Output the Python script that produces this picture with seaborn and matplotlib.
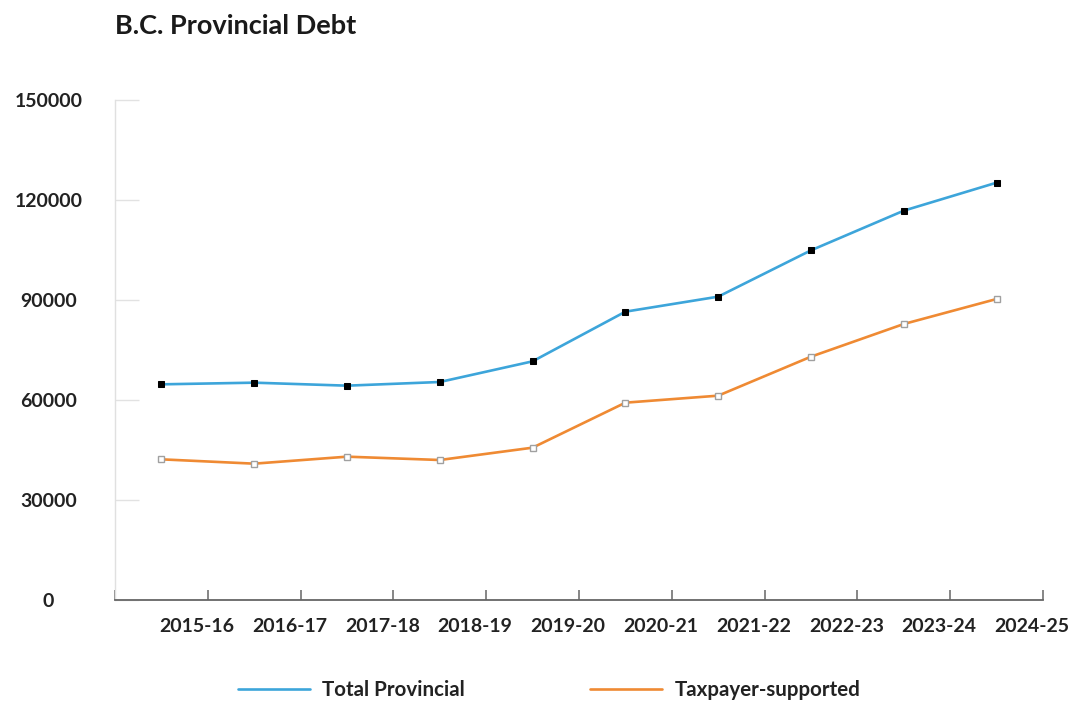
import numpy as np
import pandas as pd
import matplotlib
matplotlib.use("Agg")
import matplotlib.pyplot as plt
from matplotlib.lines import Line2D
import seaborn as sns

years = ["2015-16", "2016-17", "2017-18", "2018-19", "2019-20",
         "2020-21", "2021-22", "2022-23", "2023-24", "2024-25"]
total_provincial = [64700, 65200, 64300, 65400, 71600, 86500, 91000, 104900, 116800, 125200]
taxpayer_supported = [42200, 40900, 43000, 42000, 45700, 59200, 61300, 73000, 82800, 90300]
y_ticks = [0, 30000, 60000, 90000, 120000, 150000]

BLUE = "#3DA5DA"
ORANGE = "#EF8A33"

sns.set_theme(style="white")
plt.rcParams["font.family"] = ["Lato", "DejaVu Sans"]

W, H = 1077, 701
fig = plt.figure(figsize=(W / 100, H / 100), dpi=100)
ax = fig.add_axes([115 / W, 1 - 600 / H, (1043 - 115) / W, 500 / H])

df = pd.DataFrame({
    "pos": np.arange(len(years)),
    "year": years,
    "Total Provincial": total_provincial,
    "Taxpayer-supported": taxpayer_supported,
})

sns.lineplot(data=df, x="pos", y="Total Provincial", ax=ax, color=BLUE,
             linewidth=1.9, marker="s", markersize=4.5,
             markerfacecolor="black", markeredgecolor="black", legend=False)
sns.lineplot(data=df, x="pos", y="Taxpayer-supported", ax=ax, color=ORANGE,
             linewidth=1.9, marker="s", markersize=4.5,
             markerfacecolor="white", markeredgecolor="#a0a0a0",
             markeredgewidth=1.0, legend=False)

n = len(years)
ax.set_xlim(-0.5, n - 0.5)
ax.set_ylim(0, 150000)
ax.set_xlabel("")
ax.set_ylabel("")

# x axis: boundary ticks (major, no label) and offset labels (minor)
ax.set_xticks(np.arange(n + 1) - 0.5)
ax.set_xticklabels([""] * (n + 1))
ax.set_xticks(np.arange(n) + 0.38, minor=True)
ax.set_xticklabels(years, minor=True, fontsize=14, fontweight="bold",
                   color="#222222")
ax.tick_params(axis="x", which="major", direction="in", length=7,
               width=1.1, color="#666666", bottom=True)
ax.tick_params(axis="x", which="minor", length=0, pad=13, bottom=True)

# y axis
ax.set_yticks(y_ticks)
ax.set_yticklabels([str(v) for v in y_ticks], fontsize=14, fontweight="bold",
                   color="#222222")
for lab in ax.get_yticklabels():
    lab.set_horizontalalignment("center")
ax.tick_params(axis="y", direction="in", length=17, width=1.0,
               color="#e2e2e2", pad=48, left=True)

for side in ["top", "right"]:
    ax.spines[side].set_visible(False)
ax.spines["left"].set_color("#e0e0e0")
ax.spines["left"].set_linewidth(1.0)
ax.spines["bottom"].set_color("#666666")
ax.spines["bottom"].set_linewidth(1.3)
ax.grid(False)

fig.text(115 / W, 1 - 26 / H, "B.C. Provincial Debt", ha="left", va="center",
         fontsize=19.5, fontweight="bold", color="#1a1a1a")

handles = [Line2D([0], [0], color=BLUE, linewidth=1.9),
           Line2D([0], [0], color=ORANGE, linewidth=1.9)]
leg = fig.legend(handles, ["Total Provincial", "Taxpayer-supported"],
                 loc="center", bbox_to_anchor=(549 / W, 1 - 690 / H),
                 ncol=2, frameon=False, handlelength=3.5, handletextpad=0.6,
                 columnspacing=6.1,
                 prop={"size": 14.8, "weight": "bold"})
for t in leg.get_texts():
    t.set_color("#222222")

fig.savefig("out.png", dpi=100, facecolor="white")
